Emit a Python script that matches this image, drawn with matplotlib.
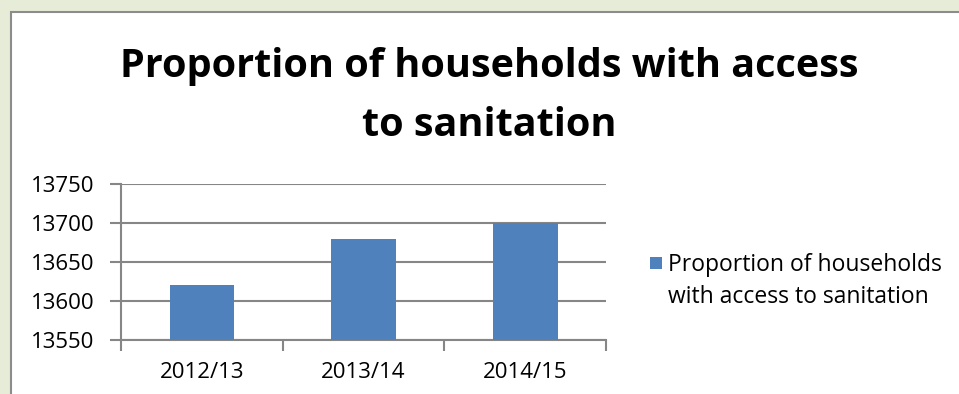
import numpy as np
import matplotlib.pyplot as plt
from matplotlib.patches import Rectangle
from matplotlib.ticker import FixedLocator

years = ['2012/13', '2013/14', '2014/15']
values = [13620, 13680, 13700]
series_name = 'Proportion of households\nwith access to sanitation'
title = 'Proportion of households with access\nto sanitation'

plt.rcParams['font.family'] = ['Open Sans', 'DejaVu Sans']

fig = plt.figure(figsize=(9.59, 3.94), dpi=100)
fig.patch.set_facecolor('#e6ecd8')

# white chart box with grey border
box = Rectangle((11 / 959, -0.05), 1, 1.05 - 12 / 394, transform=fig.transFigure,
                facecolor='white', edgecolor='#8c8c8c', linewidth=1.5, zorder=-5)
fig.patches.append(box)

fig.text(0.51, 1 - 96 / 394, title, ha='center', va='center', fontsize=28.5,
         fontweight='bold', linespacing=1.65)

ax = fig.add_axes([121 / 959, 1 - 340 / 394, 485 / 959, 156 / 394])
ax.set_facecolor('none')
x = np.arange(len(years))
ax.bar(x, values, width=0.4, color='#4f81bd', zorder=3)

ax.set_ylim(13550, 13750)
ax.set_xlim(-0.5, len(years) - 0.5)
ax.set_yticks(np.arange(13550, 13751, 50))
ax.yaxis.grid(True, color='#868686', linewidth=1.5, zorder=0)
ax.set_axisbelow(True)

ax.set_xticks(x)
ax.set_xticklabels(years, fontsize=16)
ax.xaxis.set_minor_locator(FixedLocator(np.arange(-0.5, len(years), 1.0)))
ax.tick_params(axis='x', which='major', length=0, pad=16)
ax.tick_params(axis='x', which='minor', length=8, width=1.5, color='#868686')
ax.tick_params(axis='y', length=8, width=1.5, color='#868686', labelsize=16, pad=11)

for s in ['top', 'right']:
    ax.spines[s].set_visible(False)
for s in ['left', 'bottom']:
    ax.spines[s].set_color('#868686')
    ax.spines[s].set_linewidth(1.5)

# legend
fig.patches.append(Rectangle((650 / 959, 1 - 269 / 394), 12 / 959, 12 / 394,
                             transform=fig.transFigure, facecolor='#4f81bd',
                             edgecolor='none'))
fig.text(668 / 959, 1 - 281 / 394, series_name, ha='left', va='center',
         fontsize=16.5, linespacing=1.45)

fig.savefig('out.png', dpi=100, facecolor=fig.get_facecolor())
